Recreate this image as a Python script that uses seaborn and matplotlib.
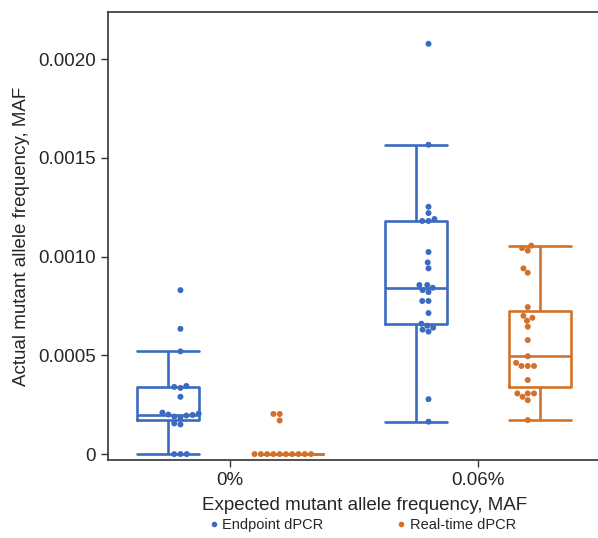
import numpy as np
import pandas as pd
import matplotlib
matplotlib.use("Agg")
import matplotlib.pyplot as plt
from matplotlib.lines import Line2D
import seaborn as sns

categories = ["0%", "0.06%"]
methods = ["Endpoint dPCR", "Real-time dPCR"]

endpoint_0 = [0.00083, 0.000634, 0.00052, 0.000345, 0.00034, 0.000335, 0.00029,
              0.00021, 0.000205, 0.0002, 0.000198, 0.000195, 0.00019, 0.000185,
              0.000155, 0.00015, 0.0, 0.0, 0.0]
realtime_0 = [0.000203, 0.000203, 0.00017, 0.0, 0.0, 0.0, 0.0, 0.0, 0.0, 0.0,
              0.0, 0.0, 0.0]
endpoint_006 = [0.000164, 0.000278, 0.00062, 0.00063, 0.00064, 0.00065, 0.00066,
                0.000714, 0.000775, 0.000775, 0.00082, 0.00083, 0.000842, 0.000856,
                0.000856, 0.00094, 0.00097, 0.001023, 0.00118, 0.00118, 0.00119,
                0.00122, 0.001252, 0.001566, 0.002077]
realtime_006 = [0.000172, 0.000273, 0.00029, 0.000307, 0.000307, 0.000307,
                0.000375, 0.000446, 0.000446, 0.000446, 0.000462, 0.000495,
                0.000577, 0.000645, 0.000675, 0.00069, 0.0007, 0.000744,
                0.000918, 0.00094, 0.00103, 0.001043, 0.001055]

ytick_vals = [0, 0.0005, 0.0010, 0.0015, 0.0020]
ytick_labels = ["0", "0.0005", "0.0010", "0.0015", "0.0020"]

rows = []
for cat, meth, vals in [(categories[0], methods[0], endpoint_0),
                        (categories[0], methods[1], realtime_0),
                        (categories[1], methods[0], endpoint_006),
                        (categories[1], methods[1], realtime_006)]:
    for v in vals:
        rows.append({"Expected": cat, "Method": meth, "MAF": v})
df = pd.DataFrame(rows)

sns.set_style("ticks")
plt.rcParams["font.family"] = ["Liberation Sans", "DejaVu Sans"]

palette = {"Endpoint dPCR": "#3b6bc0", "Real-time dPCR": "#d2722a"}

fig = plt.figure(figsize=(5.98, 5.38), dpi=100)
ax = fig.add_axes([108 / 598, 78 / 538, (622 - 108) / 598, (460 - 12) / 538])

sns.boxplot(data=df, x="Expected", y="MAF", hue="Method", order=categories,
            hue_order=methods, palette=palette, fill=False, width=1.0, gap=0.5,
            showfliers=False, linewidth=1.9, capwidths=0.25, ax=ax, legend=False)
sns.swarmplot(data=df, x="Expected", y="MAF", hue="Method", order=categories,
              hue_order=methods, palette=palette, dodge=True, size=4.3,
              linewidth=0, ax=ax, legend=False)

ax.set_xlim(-0.492, 1.58)
ax.set_ylim(-0.00003, 0.002238)
ax.set_yticks(ytick_vals)
ax.set_yticklabels(ytick_labels)
ax.tick_params(axis="both", labelsize=13.5, length=5, width=1, color="#333333")
ax.set_xlabel("Expected mutant allele frequency, MAF", fontsize=13.5, labelpad=6)
ax.set_ylabel("Actual mutant allele frequency, MAF", fontsize=13.5, labelpad=6)
for side in ["left", "bottom", "top"]:
    ax.spines[side].set_linewidth(1.2)
    ax.spines[side].set_color("#333333")
ax.spines["right"].set_visible(False)

handles = [Line2D([], [], marker="o", linestyle="", markersize=3,
                  color=palette[m]) for m in methods]
fig.legend(handles, methods, loc="center", bbox_to_anchor=(361 / 598, 1 - 525 / 538),
           ncol=2, frameon=False, fontsize=10.5, handletextpad=0.1,
           columnspacing=4.8, handlelength=1.0)

fig.savefig("out.png", dpi=100)
